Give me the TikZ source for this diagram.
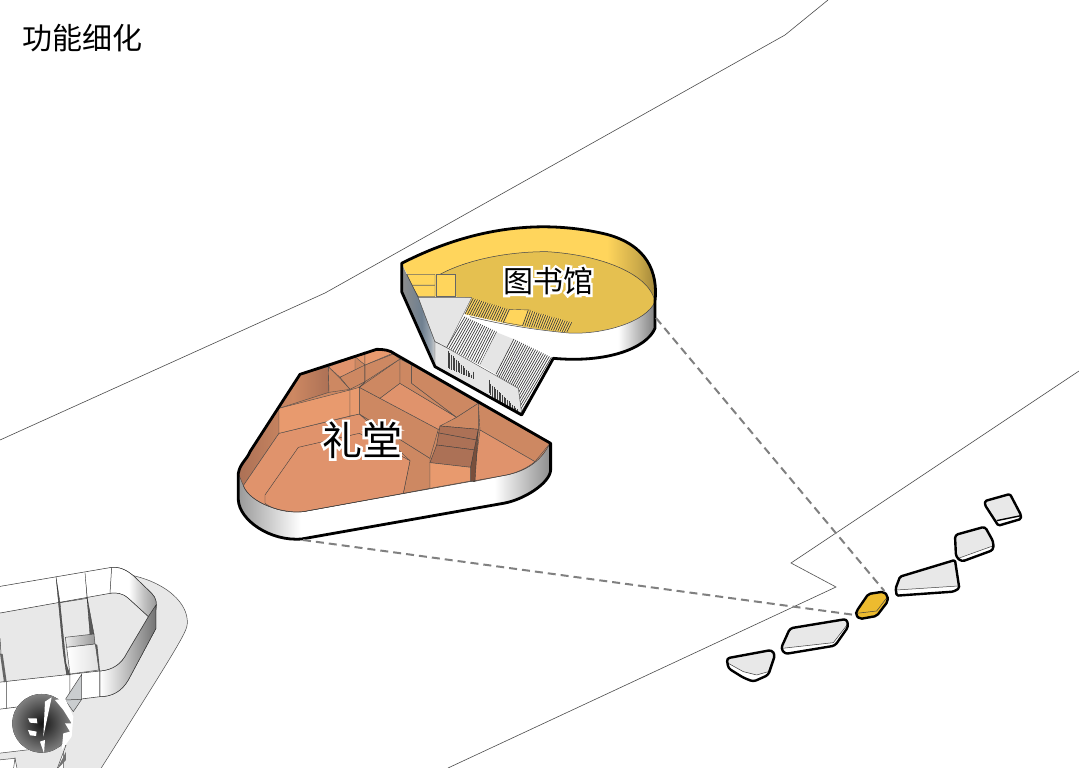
\documentclass[tikz,border=0pt]{standalone}
\usepackage{fontspec}
\usepackage{tikz}
\usetikzlibrary{calc}
\newfontfamily\cjkfont{Noto Sans CJK SC}
\definecolor{libtop}{HTML}{FFD55C}
\definecolor{libfloor}{HTML}{E5C050}
\definecolor{plotyellow}{HTML}{EDBB2F}
\definecolor{halllight}{HTML}{E89A6E}
\definecolor{hallfloor}{HTML}{E0936C}
\definecolor{hallmid}{HTML}{CD8862}
\definecolor{halldark}{HTML}{AC7156}
\definecolor{paleground}{HTML}{E8E8E8}
\definecolor{steelblue}{HTML}{6F8090}
\pgfdeclarehorizontalshading{libwallshade}{100bp}{color(0bp)=(white); color(65bp)=(white); color(75bp)=(black!50); color(100bp)=(black!50)}
\pgfdeclarehorizontalshading{hallwallshade}{100bp}{color(0bp)=(black!40); color(25bp)=(black!40); color(35bp)=(white); color(66bp)=(white); color(75bp)=(black!45); color(100bp)=(black!45)}
\pgfdeclarehorizontalshading{yellowshade}{100bp}{color(0bp)=(libtop); color(65bp)=(libtop); color(71bp)=(libtop!80!black); color(75bp)=(libtop!60!black); color(100bp)=(libtop!60!black)}
\pgfdeclarehorizontalshading{steelshade}{100bp}{color(0bp)=(black!45); color(25bp)=(black!45); color(55bp)=(steelblue); color(68bp)=(steelblue!70!white); color(75bp)=(black!20); color(100bp)=(black!20)}
\pgfdeclarehorizontalshading{brownshade}{100bp}{color(0bp)=(halldark); color(25bp)=(halldark); color(55bp)=(hallmid); color(75bp)=(halldark); color(100bp)=(halldark)}
\pgfdeclarehorizontalshading{towerwall}{100bp}{color(0bp)=(white); color(45bp)=(white); color(62bp)=(black!25); color(75bp)=(black!40); color(100bp)=(black!40)}
\newcommand{\hatchquad}[5]{%
  \foreach \k in {0,...,#5}{%
    \pgfmathsetmacro{\t}{\k/#5}
    \draw[hatchline] ($(#1)!\t!(#2)$) -- ($(#4)!\t!(#3)$);
  }}
\newcommand{\halotext}[1]{\rlap{\special{pdf:code q 1 1 1 RG 1 1 1 rg 2 Tr 5 w}#1\special{pdf:code Q}}#1}
\tikzset{
  roadline/.style={draw=black!70,line width=0.6pt},
  linkline/.style={draw=black!50,dash pattern=on 8pt off 5pt,line width=2pt},
  outline/.style={draw=black,line width=2.8pt,line join=round},
  thinline/.style={draw=black!75,line width=0.5pt},
  hatchline/.style={draw=black!75,line width=0.7pt},
  plotline/.style={draw=black,line width=2.4pt,line join=round,rounded corners=3pt},
  title/.style={font=\cjkfont\fontsize{30}{30}\selectfont,text=black,inner sep=0pt},
  roomlabel/.style={text=black,inner sep=0pt},
  libscope/.style={shift={(390,215)},x=0.3333pt,y=-0.3333pt},
  hallscope/.style={shift={(230,340)},x=0.3333pt,y=-0.3333pt},
  towerscope/.style={shift={(0,560)},x=0.3333pt,y=-0.3333pt},
  islandscope/.style={shift={(720,485)},x=0.3333pt,y=-0.3333pt}
}
\begin{document}
\begin{tikzpicture}[x=1pt,y=-1pt]
  \useasboundingbox (0,0) rectangle (1079,768);
  \clip (0,0) rectangle (1079,768);
  \fill[white] (0,0) rectangle (1079,768);
  \draw[roadline] (0,440) -- (325,293) -- (785,35) -- (828,0);
  \draw[roadline] (1079,371) -- (791,563) -- (836,587) -- (448,768);

  % tower corner
  \begin{scope}[towerscope]
    \fill[paleground,draw=black!70,line width=0.5pt] (400,47) .. controls (500,70) and (565,130) .. (562,190) .. controls (560,215) and (550,235) .. (300,630) -- (190,630) -- (190,400) -- cycle;
    \fill[white,draw=black!80,line width=0.5pt] (-5,80) -- (335,22) .. controls (365,20) and (385,35) .. (400,47) -- (455,100) .. controls (470,115) and (470,130) .. (468,150) -- (468,205) -- (385,360) .. controls (365,395) and (335,410) .. (300,410) -- (20,445) -- (-5,448) -- cycle;
    \shade[shading=towerwall,draw=black!80,line width=0.5pt] (335,22) .. controls (365,20) and (385,35) .. (400,47) -- (455,100) .. controls (470,115) and (470,130) .. (468,145) -- (445,170) -- (385,115) .. controls (365,98) and (345,98) .. (330,100) -- cycle;
    \shade[left color=white,right color=black!55,draw=black!80,line width=0.5pt] (445,170) -- (468,135) -- (468,205) -- (385,360) .. controls (365,395) and (335,410) .. (300,410) -- (300,333) .. controls (340,330) and (365,310) .. (380,280) -- cycle;
    \fill[paleground,draw=black!80,line width=0.5pt] (-5,160) -- (330,100) .. controls (350,98) and (365,98) .. (385,115) -- (445,170) -- (380,280) .. controls (365,310) and (340,330) .. (300,333) -- (-5,367) -- cycle;
    \draw[thinline] (180,128) -- (262,115);
    \fill[black!65,draw=black!80,line width=0.3pt] (168,50) -- (180,128) -- (198,310) -- (210,345) -- (200,345) -- (190,280) -- cycle;
    \fill[black!65,draw=black!80,line width=0.3pt] (255,38) -- (262,115) -- (282,222) -- (270,224) -- cycle;
    \shade[left color=black!8,right color=black!40,draw=black!70,line width=0.5pt] (196,232) -- (282,222) -- (285,252) -- (200,262) -- cycle;
    \shade[left color=white,right color=black!12,draw=black!70,line width=0.5pt] (200,262) -- (286,252) -- (297,330) -- (210,342) -- cycle;
    \fill[black!65] (286,252) -- (292,255) -- (300,333) -- (297,333) -- cycle;
    \fill[black!60] (0,280) -- (8,282) -- (20,365) -- (12,367) -- cycle;
    \draw[thinline] (0,235) -- (3,280) (210,345) -- (210,420) (300,333) -- (300,410) (20,365) -- (20,445);
    \fill[black!25!cyan!8!gray!45,draw=black!70,line width=0.5pt] (245,343) -- (245,418) -- (220,455) -- (195,420) -- cycle;
    \draw[thinline] (195,420) -- (245,418);
    \fill[paleground,draw=black!70,line width=0.5pt] (-5,580) -- (198,556) -- (170,630) -- (50,630) -- (45,595) -- (-5,600) -- cycle;
    \fill[black!55] (198,575) -- (198,600) -- (170,630) -- cycle;
    \fill[white,draw=black!70,line width=0.5pt] (45,595) -- (52,630) -- (40,630) -- cycle;
    \fill[inner color=black!92,outer color=black!50] (125,490) circle[radius=88];
    \fill[white] (135,425) -- (155,412) -- (130,530) -- cycle;
    \fill[white] (120,545) -- (135,540) -- (132,580) -- cycle;
    \fill[white] (84,475) -- (110,475) -- (112,490) -- (90,488) -- cycle;
    \fill[white] (84,510) -- (110,515) -- (108,528) -- (90,526) -- cycle;
    \fill[white] (165,420) -- (195,415) -- (220,470) -- (215,530) -- (185,570) -- (190,520) -- (210,515) -- (195,490) -- (215,490) -- (190,450) -- cycle;
  \end{scope}

  % library
  \begin{scope}[libscope]
    \fill[white] (35,145) .. controls (220,50) and (430,5) .. (650,58) .. controls (770,90) and (805,170) .. (795,260) -- (795,340) .. controls (770,400) and (650,445) .. (490,430) -- (395,600) -- (135,455) -- (35,230) -- cycle;
    \shade[shading=yellowshade] (35,145) .. controls (220,50) and (430,5) .. (650,58) .. controls (770,90) and (805,170) .. (795,260) .. controls (780,180) and (640,120) .. (470,110) .. controls (350,110) and (230,135) .. (150,178) -- (197,178) -- (197,245) -- (85,245) -- cycle;
    \fill[libfloor] (150,178) .. controls (230,135) and (350,110) .. (470,110) .. controls (640,120) and (780,180) .. (795,260) .. controls (770,320) and (640,360) .. (535,354) .. controls (440,345) and (340,325) .. (225,297) -- (245,248) -- (197,245) -- (197,178) -- cycle;
    \draw[thinline] (150,178) .. controls (230,135) and (350,110) .. (470,110) .. controls (640,120) and (780,180) .. (795,260);
    \shade[shading=libwallshade] (240,305) .. controls (340,330) and (440,345) .. (535,354) .. controls (640,360) and (770,320) .. (795,260) -- (795,340) .. controls (770,400) and (650,445) .. (490,430) -- cycle;
    \draw[thinline] (240,305) .. controls (340,330) and (440,345) .. (535,354) .. controls (640,360) and (770,320) .. (795,260);
    \fill[libtop,draw=black!70,line width=0.4pt] (358,283) -- (420,285) -- (398,332) -- (340,322) -- cycle;
    \fill[libtop,draw=black!60,line width=0.4pt] (50,178) -- (135,178) -- (135,210) -- (65,210) -- cycle;
    \fill[libtop,draw=black!60,line width=0.4pt] (65,212) -- (135,212) -- (135,245) -- (85,245) -- cycle;
    \fill[libtop,draw=black!60,line width=0.4pt] (140,178) -- (197,178) -- (197,245) -- (140,245) -- cycle;
    \fill[libtop] (250,250) -- (358,283) -- (340,322) -- (225,297) -- cycle;
    \hatchquad{250,250}{358,283}{340,322}{225,297}{17}
    \fill[libtop] (415,285) -- (545,322) -- (530,352) -- (398,332) -- cycle;
    \hatchquad{415,285}{545,322}{530,352}{398,332}{20}
    \shade[shading=steelshade] (35,145) -- (50,178) -- (85,248) -- (135,380) -- (135,455) -- (35,230) -- cycle;
    \draw[thinline] (50,178) -- (85,248) -- (135,380);
    \fill[black!10,draw=black!70,line width=0.4pt] (85,248) -- (245,248) -- (170,398) -- (135,380) -- cycle;
    \fill[white] (225,305) -- (320,350) -- (270,450) -- (170,398) -- cycle;
    \hatchquad{225,305}{320,350}{270,450}{170,398}{16}
    \fill[black!10] (320,352) -- (370,372) -- (318,478) -- (270,450) -- cycle;
    \fill[white] (372,372) -- (490,430) -- (395,590) -- (385,520) -- (318,478) -- cycle;
    \hatchquad{372,372}{490,430}{395,590}{318,478}{20}
    \fill[black!10,draw=black!70,line width=0.4pt] (135,380) -- (170,398) -- (385,520) -- (395,595) -- (135,455) -- cycle;
    \foreach \hx in {174,179,...,248}{
      \pgfmathsetmacro{\hy}{405+(\hx-170)*1.0}
      \pgfmathsetmacro{\hz}{458+(\hx-170)*0.42}
      \draw[hatchline] (\hx,\hy) -- (\hx,\hz);
    }
    \foreach \hx in {302,307,...,382}{
      \pgfmathsetmacro{\hy}{505+(\hx-300)*0.95}
      \pgfmathsetmacro{\hz}{540+(\hx-300)*0.65}
      \draw[hatchline] (\hx,\hy) -- (\hx,\hz);
    }
    \draw[thinline] (298,495) -- (298,535) (250,470) -- (250,492);
    \draw[outline] (35,145) .. controls (220,50) and (430,5) .. (650,58) .. controls (770,90) and (805,170) .. (795,260) -- (795,340) .. controls (770,400) and (650,445) .. (490,430) -- (395,600) -- (135,455) -- (35,230) -- cycle;
  \end{scope}

  % hall
  \begin{scope}[hallscope]
    \shade[shading=hallwallshade] (25,400) -- (25,480) .. controls (28,540) and (120,605) .. (215,597) -- (820,490) .. controls (880,480) and (960,430) .. (962,390) -- (962,310) -- (600,400) -- cycle;
    \fill[hallmid] (25,400) .. controls (30,370) and (50,360) .. (60,335) -- (210,103) -- (440,28) .. controls (460,28) and (480,30) .. (495,42) -- (960,310) .. controls (930,370) and (880,395) .. (830,405) -- (220,515) .. controls (160,522) and (60,490) .. (40,437) -- cycle;
    \shade[shading=brownshade,draw=black!70,line width=0.4pt] (25,400) .. controls (30,370) and (50,360) .. (60,335) -- (210,103) -- (295,80) -- (297,157) -- (147,205) -- (147,280) -- (40,437) -- cycle;
    \fill[hallfloor,draw=black!70,line width=0.4pt] (40,437) -- (147,280) -- (388,222) -- (600,370) -- (600,445) -- (220,515) .. controls (160,522) and (60,490) .. (40,437) -- cycle;
    \fill[hallmid,draw=black!70,line width=0.4pt] (388,222) -- (600,355) -- (600,445) -- (520,460) -- (540,362) -- cycle;
    \fill[hallfloor,draw=black!75,line width=0.4pt] (105,490) -- (105,465) -- (205,322) -- (388,280) -- (540,362) -- (520,460) -- (220,515) .. controls (180,520) and (130,510) .. (105,490) -- cycle;
    \fill[halllight,draw=black!70,line width=0.4pt] (147,205) -- (360,150) -- (360,228) -- (147,280) -- cycle;
    \fill[halllight,draw=black!70,line width=0.4pt] (360,150) -- (388,142) -- (388,222) -- (360,228) -- cycle;
    \fill[hallmid,draw=black!70,line width=0.4pt] (388,142) -- (625,268) -- (600,355) -- (388,222) -- cycle;
    \fill[hallmid,draw=black!70,line width=0.4pt] (388,142) -- (510,57) -- (510,130) -- (450,175) -- cycle;
    \fill[hallfloor,draw=black!70,line width=0.4pt] (450,175) -- (510,130) -- (680,232) -- (625,268) -- cycle;
    \fill[hallmid,draw=black!70,line width=0.4pt] (510,57) -- (545,75) -- (545,130) -- (680,232) -- (510,130) -- cycle;
    \fill[hallmid,draw=black!70,line width=0.4pt] (545,75) -- (745,190) -- (680,232) -- (545,130) -- cycle;
    \fill[hallmid,draw=black!70,line width=0.4pt] (680,232) -- (745,190) -- (745,268) -- (630,258) -- cycle;
    \fill[hallmid,draw=black!70,line width=0.4pt] (745,190) -- (960,310) -- (915,365) -- (750,270) -- cycle;
    \fill[hallfloor,draw=black!70,line width=0.4pt] (750,270) -- (915,365) .. controls (890,385) and (860,398) .. (830,405) -- (730,425) -- cycle;
    \fill[halldark,draw=black!75,line width=0.4pt] (630,258) -- (745,268) -- (735,330) -- (620,315) -- cycle;
    \draw[thinline] (622,278) -- (740,300);
    \fill[halldark,draw=black!75,line width=0.4pt] (620,315) -- (735,330) -- (722,382) -- (600,368) -- cycle;
    \fill[halldark!70!black,draw=black!75,line width=0.4pt] (745,268) -- (735,425) -- (722,423) -- (722,382) -- cycle;
    \fill[halllight,draw=black!70,line width=0.4pt] (600,368) -- (722,382) -- (722,423) -- (600,445) -- cycle;
    \fill[hallmid,draw=black!70,line width=0.4pt] (295,80) -- (330,115) -- (360,148) -- (297,157) -- cycle;
    \fill[hallfloor,draw=black!70,line width=0.4pt] (295,80) -- (375,52) -- (375,90) -- (330,112) -- cycle;
    \fill[hallmid,draw=black!70,line width=0.4pt] (330,112) -- (405,75) -- (405,125) -- (360,148) -- cycle;
    \fill[hallmid,draw=black!70,line width=0.4pt] (405,75) -- (490,42) -- (510,57) -- (405,125) -- cycle;
    \fill[halllight,draw=black!70,line width=0.4pt] (375,50) -- (440,28) .. controls (460,28) and (475,30) .. (488,40) -- (405,75) -- cycle;
    \draw[thinline] (405,35) -- (405,125) -- (388,142);
    \draw[thinline] (220,515) .. controls (160,522) and (60,490) .. (40,437);
    \draw[thinline] (220,515) -- (830,405) .. controls (880,395) and (930,370) .. (960,310);
    \draw[outline] (25,400) .. controls (30,370) and (50,360) .. (60,335) -- (210,103) -- (440,28) .. controls (460,28) and (480,30) .. (495,42) -- (962,310) -- (962,390) .. controls (960,430) and (880,480) .. (820,490) -- (215,597) .. controls (120,605) and (28,540) .. (25,480) -- cycle;
  \end{scope}

  % small plots
  \begin{scope}[islandscope]
    \fill[white,rounded corners=3pt] (20,520) -- (155,495) -- (165,510) -- (145,570) -- (100,590) -- (70,578) -- (25,550) -- cycle;
    \fill[paleground,rounded corners=3pt] (20,520) -- (155,495) -- (165,505) -- (145,560) -- (110,570) -- (70,560) -- (25,535) -- cycle;
    \draw[thinline] (25,535) -- (70,560) -- (110,570) -- (145,560) -- (165,505);
    \draw[plotline] (20,520) -- (155,495) -- (165,510) -- (145,570) -- (100,590) -- (70,578) -- (25,550) -- cycle;
    \fill[white,rounded corners=3pt] (210,430) -- (380,402) -- (385,425) -- (345,482) -- (195,507) -- (183,490) -- cycle;
    \fill[paleground,rounded corners=3pt] (210,430) -- (380,402) -- (385,415) -- (340,473) -- (187,490) -- cycle;
    \draw[thinline] (187,490) -- (340,473) -- (385,415);
    \draw[plotline] (210,430) -- (380,402) -- (385,425) -- (345,482) -- (195,507) -- (183,490) -- cycle;
    \fill[white,rounded corners=3pt] (540,275) -- (705,225) -- (718,310) -- (700,320) -- (530,332) -- (527,310) -- cycle;
    \fill[paleground] (540,275) -- (705,225) -- (715,303) -- (530,315) -- cycle;
    \draw[thinline] (530,315) -- (715,303);
    \draw[plotline,rounded corners=1.5pt] (540,275) -- (705,225) -- (718,310) -- (700,320) -- (530,332) -- (527,310) -- cycle;
    \fill[white,rounded corners=3pt] (705,150) -- (795,125) -- (820,170) -- (820,195) -- (725,230) -- (708,215) -- cycle;
    \fill[paleground,rounded corners=3pt] (705,150) -- (795,125) -- (820,170) -- (818,183) -- (715,220) -- cycle;
    \draw[thinline] (715,220) -- (818,183);
    \draw[plotline] (705,150) -- (795,125) -- (820,170) -- (820,195) -- (725,230) -- (708,215) -- cycle;
    \fill[paleground] (795,48) -- (870,27) -- (903,90) -- (830,107) -- cycle;
    \draw[draw=black,line width=1.4pt] (830,107) -- (903,92);
    \draw[plotline,rounded corners=1.5pt] (795,48) -- (870,27) -- (903,90) -- (903,102) -- (835,122) -- (795,60) -- cycle;
    \fill[plotyellow,rounded corners=3pt] (445,327) -- (490,320) -- (503,332) -- (503,350) -- (470,393) -- (420,402) -- (407,390) -- (410,378) -- cycle;
    \draw[thinline] (410,385) -- (470,378) -- (503,335);
    \draw[plotline,rounded corners=2pt] (445,327) -- (490,320) -- (503,332) -- (503,350) -- (470,393) -- (420,402) -- (407,390) -- (410,378) -- cycle;
    \coordinate (plotTop) at (493,318);
    \coordinate (plotLeft) at (405,390);
  \end{scope}

  \coordinate (libEnd) at (656,318);
  \coordinate (hallEnd) at (303,540);
  \draw[linkline] (libEnd) -- (plotTop);
  \draw[linkline] (hallEnd) -- (plotLeft);

  \node[title,anchor=west] (pageTitle) at (22,38) {功能细化};
  \node[roomlabel] (libLabel) at (548,281) {\cjkfont\fontsize{30}{30}\selectfont\halotext{图书馆}};
  \node[roomlabel] (hallLabel) at (362,440) {\cjkfont\fontsize{40}{40}\selectfont\halotext{礼堂}};
\end{tikzpicture}
\end{document}
